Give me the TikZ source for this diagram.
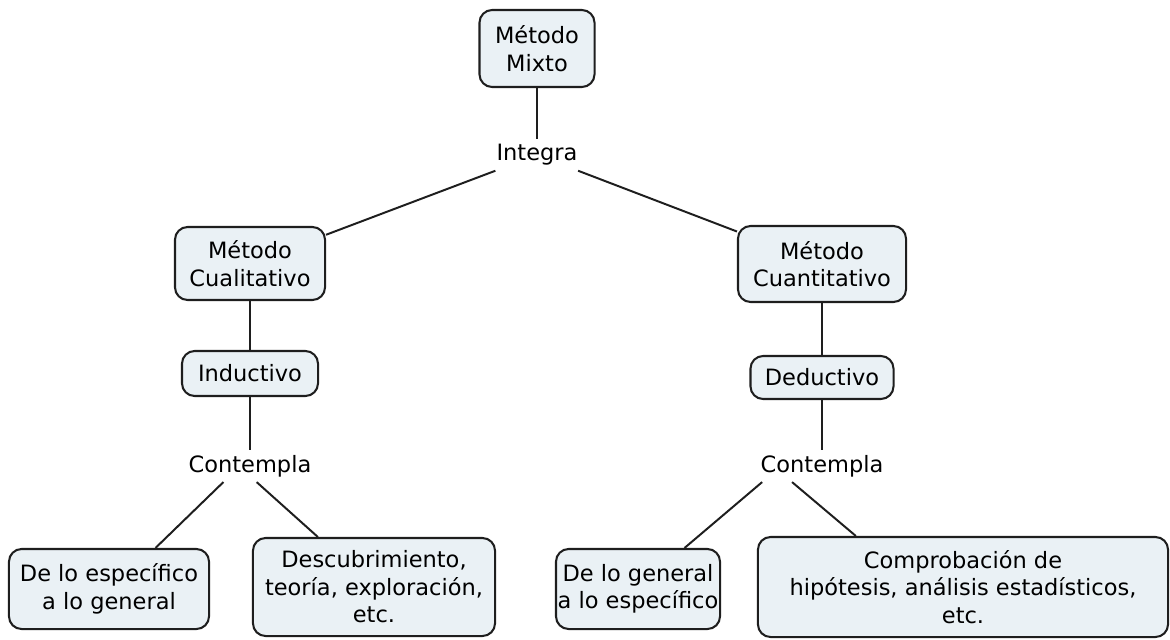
\documentclass[tikz,border=0pt]{standalone}
\usepackage{fontspec}
\setmainfont{DejaVu Sans}
\usetikzlibrary{positioning, calc}
\definecolor{boxfill}{RGB}{234,241,245}
\definecolor{linegray}{RGB}{30,30,30}

\tikzset{
  concept/.style={draw=linegray, fill=boxfill, line width=1.45pt, rounded corners=9pt,
    align=center, inner sep=0pt, font=\fontsize{16}{19.5}\selectfont},
  linkword/.style={align=center, inner sep=3.5pt, font=\fontsize{16}{19.5}\selectfont},
  link/.style={draw=linegray, line width=1.4pt}
}

\begin{document}
\begin{tikzpicture}[x=0.025cm, y=-0.025cm]
  \useasboundingbox (0,0) rectangle (1170,639);

  % top
  \node[concept, minimum width=2.875cm, minimum height=1.925cm] (mixto) at (537,48.5) {Método\\Mixto};
  \node[linkword] (integra) at (537,155) {Integra};

  % left branch
  \node[concept, minimum width=3.75cm, minimum height=1.825cm] (cuali) at (250,263.5) {Método\\Cualitativo};
  \node[concept, minimum width=3.4cm, minimum height=1.125cm] (induc) at (250,373.5) {Inductivo};
  \node[linkword] (contL) at (250,466) {Contempla};
  \node[concept, minimum width=5cm, minimum height=2cm] (especif) at (109,589) {De lo específico\\a lo general};
  \node[concept, minimum width=6.05cm, minimum height=2.45cm] (descub) at (374,587) {Descubrimiento,\\teoría, exploración,\\etc.};

  % right branch
  \node[concept, minimum width=4.2cm, minimum height=1.9cm] (cuanti) at (822,264) {Método\\Cuantitativo};
  \node[concept, minimum width=3.575cm, minimum height=1.075cm] (deduc) at (822,377.5) {Deductivo};
  \node[linkword] (contR) at (822,466) {Contempla};
  \node[concept, minimum width=4.1cm, minimum height=2cm] (general) at (638,589) {De lo general\\a lo específico};
  \node[concept, minimum width=10.25cm, minimum height=2.5cm] (comprob) at (963,587) {Comprobación de\\hipótesis, análisis estadísticos,\\etc.};

  % links
  \draw[link] (mixto) -- (integra);
  \draw[link] (integra) -- (cuali);
  \draw[link] (integra) -- (cuanti);
  \draw[link] (cuali) -- (induc);
  \draw[link] (induc) -- (contL);
  \draw[link] ($(contL.south west)!0.6!(contL.south)$) -- ($(especif.north west)!0.73!(especif.north east)$);
  \draw[link] ($(contL.south)!0.1!(contL.south east)$) -- ($(descub.north west)!0.27!(descub.north east)$);
  \draw[link] (cuanti) -- (deduc);
  \draw[link] (deduc) -- (contR);
  \draw[link] ($(contR.south west)!0.1!(contR.south)$) -- ($(general.north west)!0.78!(general.north east)$);
  \draw[link] ($(contR.south west)!0.55!(contR.south)$) -- ($(comprob.north west)!0.24!(comprob.north east)$);
\end{tikzpicture}
\end{document}
